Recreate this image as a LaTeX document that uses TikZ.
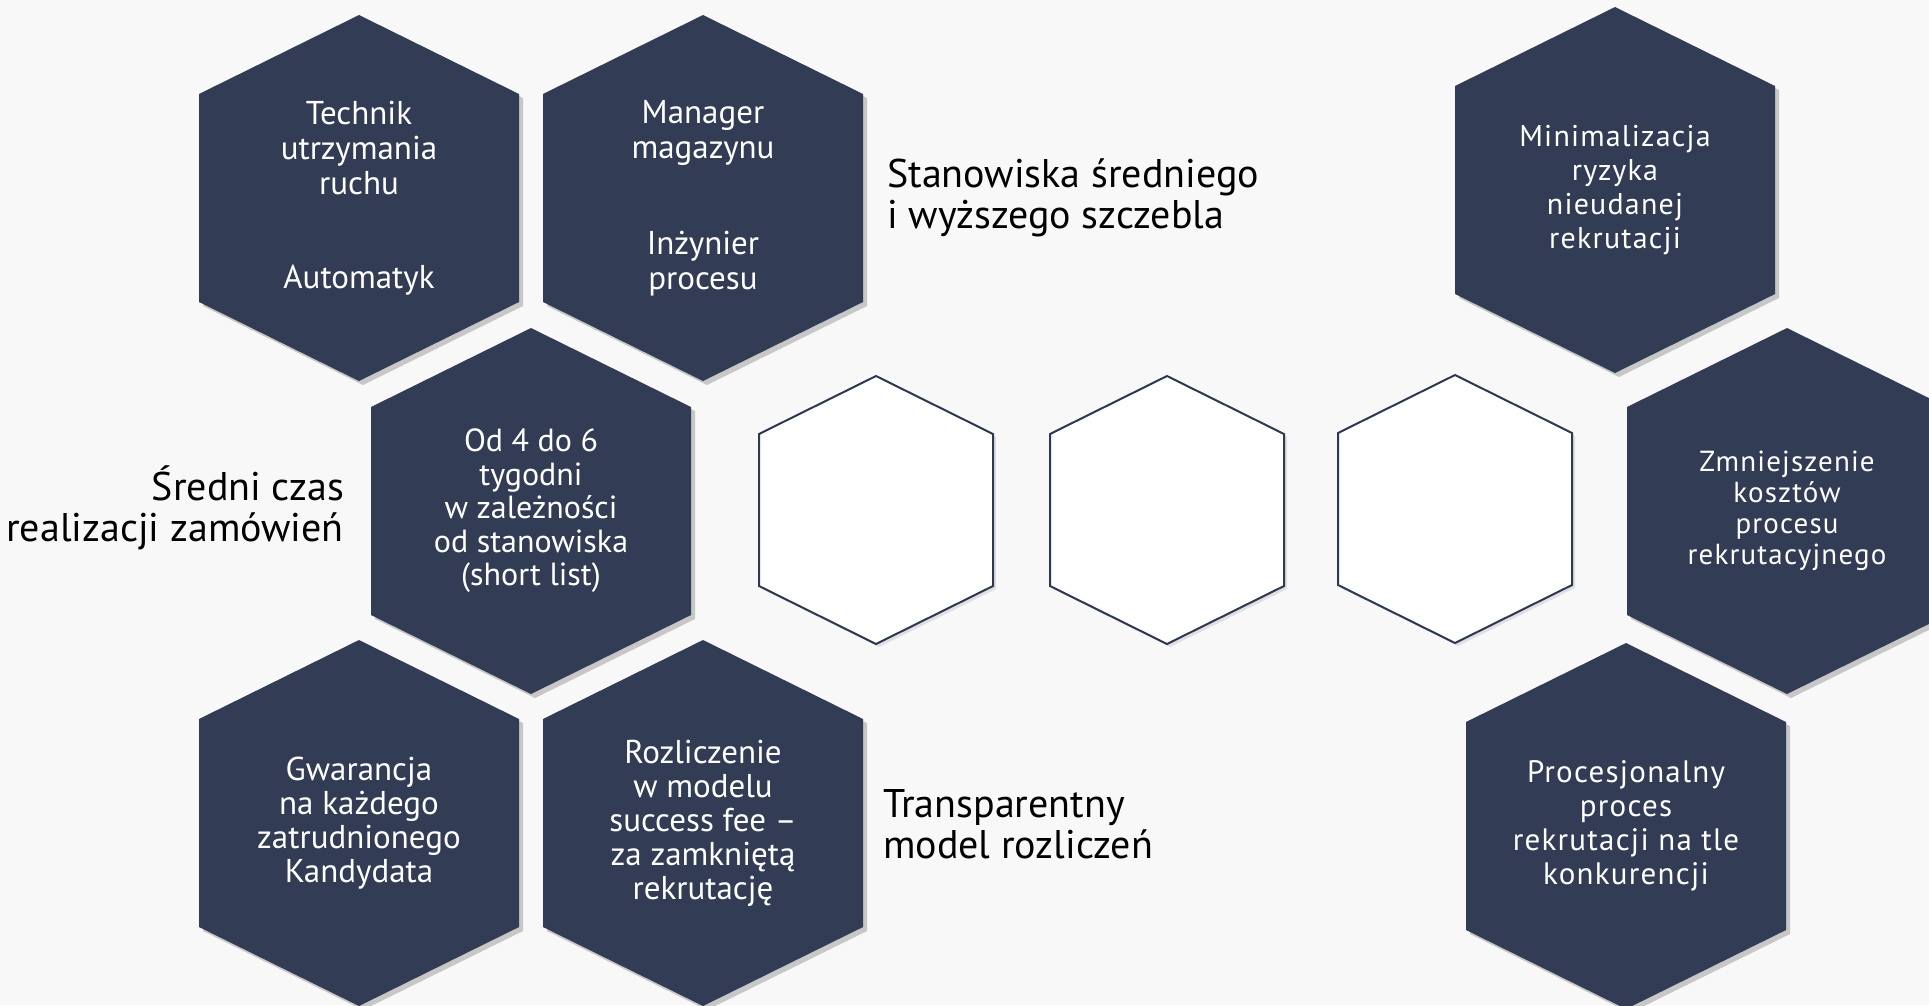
\documentclass[tikz,border=0pt]{standalone}
\usepackage{fontspec}
\setmainfont{PT Sans}
\definecolor{navy}{HTML}{323C55}
\definecolor{bgc}{HTML}{F8F8F8}
\definecolor{hexline}{HTML}{2E3850}
\newcommand\DHex[3]{%
  \coordinate (#1) at (#2,#3);
  \fill[black!22] (#1) ++(4,4) ++(0,-183) -- ++(160,79) -- ++(0,208) -- ++(-160,79) -- ++(-160,-79) -- ++(0,-208) -- cycle;
  \fill[navy] (#1) ++(0,-183) -- ++(160,79) -- ++(0,208) -- ++(-160,79) -- ++(-160,-79) -- ++(0,-208) -- cycle;
}
\newcommand\WHex[3]{%
  \coordinate (#1) at (#2,#3);
  \fill[black!12] (#1) ++(3,3) ++(0,-134) -- ++(117,58) -- ++(0,152) -- ++(-117,58) -- ++(-117,-58) -- ++(0,-152) -- cycle;
  \filldraw[fill=white, draw=hexline, line width=2pt, line join=miter] (#1) ++(0,-134) -- ++(117,58) -- ++(0,152) -- ++(-117,58) -- ++(-117,-58) -- ++(0,-152) -- cycle;
}
\begin{document}
\begin{tikzpicture}[x=1pt,y=-1pt,
  dtxt/.style={text=white, align=center, inner sep=0pt, font=\fontsize{33}{35}\selectfont},
  rtxt/.style={text=white, align=center, inner sep=0pt, font=\fontsize{30}{34}\selectfont\addfontfeature{LetterSpace=4}},
  lbl/.style={text=black, inner sep=0pt, font=\fontsize{40}{41}\selectfont}]
\useasboundingbox (0,0) rectangle (1929,1005);
\fill[bgc] (0,0) rectangle (1929,1005);
% dark hexagons
\DHex{h1}{359}{198}
\DHex{h2}{703}{198}
\DHex{h3}{531}{511}
\DHex{h4}{359}{823}
\DHex{h5}{703}{823}
\DHex{r1}{1615}{190}
\DHex{r2}{1787}{511}
\DHex{r3}{1626}{826}
% white hexagons
\WHex{w1}{876}{510}
\WHex{w2}{1167}{510}
\WHex{w3}{1455}{509}
% texts in hexagons
\node[dtxt] (t1) at (h1) {Technik\\utrzymania\\ruchu\\[59pt]Automatyk};
\node[dtxt] (t2) at (h2) {Manager\\magazynu\\[61pt]Inżynier\\procesu};
\node[dtxt, font=\fontsize{32}{33.5}\selectfont] (t3) at (h3) {Od 4 do 6\\tygodni\\w zależności\\od stanowiska\\(short list)};
\node[dtxt, font=\fontsize{33}{34}\selectfont] (t4) at (h4) {Gwarancja\\na każdego\\zatrudnionego\\Kandydata};
\node[dtxt, font=\fontsize{33}{34}\selectfont] (t5) at (h5) {Rozliczenie\\w modelu\\success fee –\\za zamkniętą\\rekrutację};
\node[rtxt] (u1) at (r1) {Minimalizacja\\ryzyka\\nieudanej\\rekrutacji};
\node[rtxt, font=\fontsize{29}{31}\selectfont\addfontfeature{LetterSpace=4}] (u2) at (r2) {Zmniejszenie\\kosztów\\procesu\\rekrutacyjnego};
\node[rtxt, font=\fontsize{31}{34}\selectfont\addfontfeature{LetterSpace=4}] (u3) at (r3) {Procesjonalny\\proces\\rekrutacji na tle\\konkurencji};
% labels
\node[lbl, align=left, anchor=west] (l1) at (887,198) {Stanowiska średniego\\i wyższego szczebla};
\node[lbl, align=right, anchor=east] (l2) at (344,508) {Średni czas\\realizacji zamówień};
\node[lbl, align=left, anchor=west] (l3) at (883,824) {Transparentny\\model rozliczeń};
\end{tikzpicture}
\end{document}
